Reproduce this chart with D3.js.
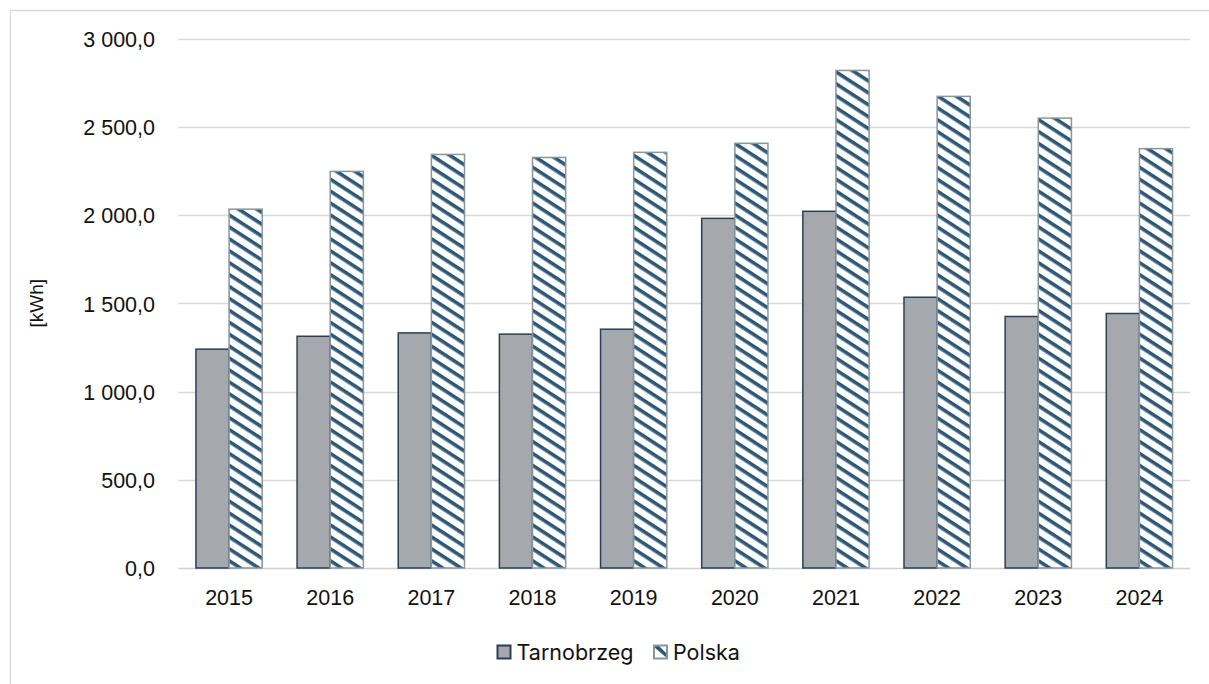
<!DOCTYPE html>
<html>
<head>
<meta charset="utf-8">
<script src="https://cdn.jsdelivr.net/npm/d3@7"></script>
<style>
  html, body { margin: 0; padding: 0; background: #fff; }
  svg { display: block; }
</style>
</head>
<body>
<svg id="chart" width="1209" height="684"></svg>
<script>
const years = ["2015","2016","2017","2018","2019","2020","2021","2022","2023","2024"];
const seriesNames = ["Tarnobrzeg", "Polska"];
const tarnobrzeg = [1240, 1313, 1332, 1325, 1353, 1981, 2021, 1534, 1425, 1442];
const polska = [2033, 2247, 2343, 2326, 2355, 2406, 2819, 2672, 2549, 2376];
const yTicks = [0, 500, 1000, 1500, 2000, 2500, 3000];
const yLabel = "[kWh]";

const svg = d3.select("#chart");
const W = 1209, H = 684;
const plot = { left: 178.5, right: 1190, top: 38.5, bottom: 568 };

// chart frame
svg.append("path")
  .attr("d", `M10.5,${H} L10.5,10.5 L${W},10.5`)
  .attr("fill", "none").attr("stroke", "#d9d9d9").attr("stroke-width", 1.3);

// pattern
const defs = svg.append("defs");
const pat = defs.append("pattern")
  .attr("id", "stripes")
  .attr("patternUnits", "userSpaceOnUse")
  .attr("width", 20).attr("height", 10)
  .attr("patternTransform", "rotate(33)");
pat.append("rect").attr("width", 20).attr("height", 10).attr("fill", "#fff");
pat.append("rect").attr("y", 0).attr("width", 20).attr("height", 3.6).attr("fill", "#2c5876");

const x = d3.scaleBand().domain(years).range([plot.left, plot.right])
  .paddingInner(0.33).paddingOuter(0.165);
const xs = d3.scaleBand().domain(seriesNames).range([0, x.bandwidth()]).padding(0);
const y = d3.scaleLinear().domain([0, 3000]).range([plot.bottom, plot.top]);

const locale = d3.formatLocale({ decimal: ",", thousands: "\u00a0", grouping: [3], currency: ["", ""] });
const fmt = locale.format(",.1f");

// gridlines
svg.append("g").selectAll("line").data(yTicks).join("line")
  .attr("x1", plot.left).attr("x2", plot.right)
  .attr("y1", d => Math.round(y(d)) + 0.5).attr("y2", d => Math.round(y(d)) + 0.5)
  .attr("stroke", d => d === 0 ? "#d0d0d0" : "#d9d9d9").attr("stroke-width", 1.5);

// y axis labels
const yAxis = d3.axisLeft(y).tickValues(yTicks).tickFormat(fmt).tickSize(0).tickPadding(0);
const gy = svg.append("g").attr("transform", `translate(155,0)`).call(yAxis);
gy.select(".domain").remove();
gy.selectAll("text").attr("font-family", "Liberation Sans, Arial, sans-serif")
  .attr("font-size", 21.5).attr("fill", "#111").attr("dy", "0.36em");

// x axis labels
const xAxis = d3.axisBottom(x).tickSize(0).tickPadding(0);
const gx = svg.append("g").attr("transform", `translate(0,590)`).call(xAxis);
gx.select(".domain").remove();
gx.selectAll("text").attr("font-family", "Liberation Sans, Arial, sans-serif")
  .attr("font-size", 21.5).attr("fill", "#111").attr("dy", "0.72em");

// bars
const data = years.map((yr, i) => ({ year: yr, Tarnobrzeg: tarnobrzeg[i], Polska: polska[i] }));
const groups = svg.append("g").selectAll("g").data(data).join("g")
  .attr("transform", d => `translate(${x(d.year)},0)`);

groups.append("rect")
  .attr("x", xs("Tarnobrzeg") + 0.75)
  .attr("y", d => y(d.Tarnobrzeg))
  .attr("width", xs.bandwidth() - 0.75)
  .attr("height", d => y(0) - y(d.Tarnobrzeg))
  .attr("fill", "#a5a8ad").attr("stroke", "#2b4153").attr("stroke-width", 1.5);

groups.append("rect")
  .attr("x", xs("Polska"))
  .attr("y", d => y(d.Polska))
  .attr("width", xs.bandwidth() - 0.75)
  .attr("height", d => y(0) - y(d.Polska))
  .attr("fill", "url(#stripes)").attr("stroke", "#8a959e").attr("stroke-width", 1.5);

// y label
svg.append("text")
  .attr("transform", `translate(36,${(plot.top + plot.bottom) / 2}) rotate(-90)`)
  .attr("text-anchor", "middle").attr("dy", "0.35em")
  .attr("font-family", "Liberation Sans, Arial, sans-serif").attr("font-size", 19).attr("fill", "#111")
  .text(yLabel);

// legend
const legendItems = [
  { name: seriesNames[0], x: 497.5, fill: "#a5a8ad", stroke: "#2b4153" },
  { name: seriesNames[1], x: 654, fill: "url(#stripesL)", stroke: "#8a959e" }
];
const patL = defs.append("pattern")
  .attr("id", "stripesL").attr("patternUnits", "userSpaceOnUse")
  .attr("width", 30).attr("height", 30)
  .attr("patternTransform", "translate(654,645)");
patL.append("rect").attr("width", 30).attr("height", 30).attr("fill", "#fff");
patL.append("path").attr("d", "M0,2 L14,14 L14,10 L4,0 Z").attr("fill", "#2c5876");

const lg = svg.append("g").selectAll("g").data(legendItems).join("g");
lg.append("rect")
  .attr("x", d => d.x).attr("y", 645.5).attr("width", 13).attr("height", 13)
  .attr("fill", d => d.fill).attr("stroke", d => d.stroke).attr("stroke-width", 2);
lg.append("text")
  .attr("x", d => d.x + 19).attr("y", 652).attr("dy", "0.36em")
  .attr("font-family", "Inter, Open Sans, sans-serif").attr("font-size", 21.5).attr("fill", "#111")
  .text(d => d.name);
</script>
</body>
</html>
